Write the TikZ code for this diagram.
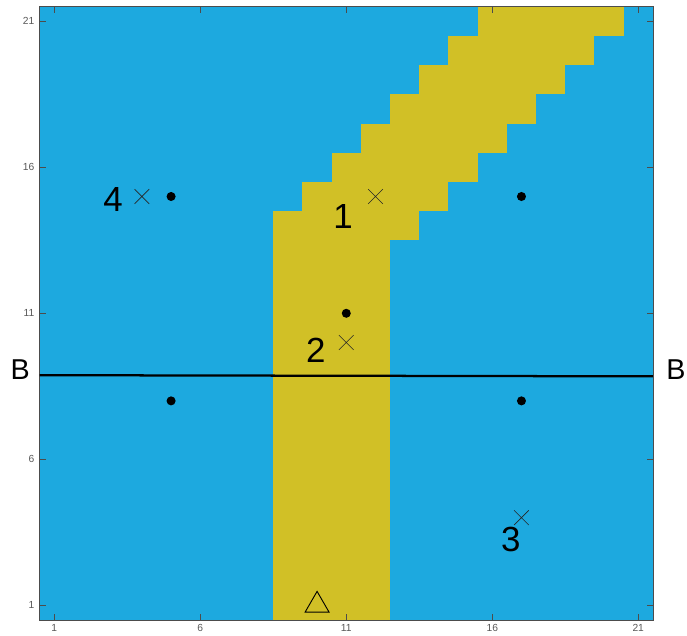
\documentclass[tikz,border=0pt]{standalone}
\usepackage{fontspec}
\setmainfont{Liberation Sans}
\usepackage{tikz}
\usetikzlibrary{positioning,shapes.geometric,shapes.misc}
\definecolor{fieldblue}{RGB}{29,169,223}
\definecolor{ridgeyellow}{RGB}{209,192,38}

\begin{document}
\begin{tikzpicture}[x=1cm,y=1cm,
  every node/.style={font=\fontsize{34}{34}\selectfont},
  ticklab/.style={font=\fontsize{10}{12}\selectfont,text=black!65,inner sep=0.5pt},
  siteno/.style={font=\fontsize{34}{34}\selectfont},
  sidelab/.style={font=\fontsize{28}{28}\selectfont},
  dotmark/.style={circle,fill=black,inner sep=0pt,minimum size=0.31cm},
  xmark/.style={cross out,draw=black!85,line width=0.6pt,inner sep=0pt,minimum size=0.48cm},
  trimark/.style={regular polygon,regular polygon sides=3,draw=black,line width=0.9pt,inner sep=0pt,minimum size=0.95cm}]
  \useasboundingbox (-0.86,-0.02) rectangle (22.67,21.73);
  % field
  \fill[fieldblue] (0.5,0.5) rectangle (21.5,21.5);
  % ridge
  \fill[ridgeyellow] (8.5,0.5) rectangle (12.5,13.5);
  \foreach \r in {14,...,21}
    \fill[ridgeyellow] (\r-5.5,\r-0.5) rectangle (\r-0.5,\r+0.5);
  % frame and ticks
  \draw[black!70,line width=0.6pt] (0.5,0.5) rectangle (21.5,21.5);
  \foreach \t in {1,6,11,16,21} {
    \draw[black!70,line width=0.5pt] (\t,0.5) -- ++(0,0.2);
    \draw[black!70,line width=0.5pt] (\t,21.5) -- ++(0,-0.2);
    \draw[black!70,line width=0.5pt] (0.5,\t) -- ++(0.2,0);
    \draw[black!70,line width=0.5pt] (21.5,\t) -- ++(-0.2,0);
    \node[ticklab] (xl\t) at (\t,0.21) {\t};
    \node[ticklab,anchor=east] (yl\t) at (0.34,\t) {\t};
  }
  % section line B--B
  \coordinate (bw) at (0.5,8.88);
  \coordinate (be) at (21.5,8.84);
  \draw[line width=2.2pt] (bw) -- (be);
  \node[sidelab] (bwl) at (-0.17,9.06) {B};
  \node[sidelab] (bel) at (22.29,9.06) {B};
  % stations
  \node[dotmark] (d1) at (5,15) {};
  \node[dotmark] (d2) at (17,15) {};
  \node[dotmark] (d3) at (11,11) {};
  \node[dotmark] (d4) at (5,8) {};
  \node[dotmark] (d5) at (17,8) {};
  % sources
  \node[xmark] (s1) at (12,15) {};
  \node[xmark] (s2) at (11,10) {};
  \node[xmark] (s3) at (17,4) {};
  \node[xmark] (s4) at (4,15) {};
  \node[siteno] (n1) at (10.89,14.32) {1};
  \node[siteno] (n2) at (9.96,9.73) {2};
  \node[siteno] (n3) at (16.64,3.24) {3};
  \node[siteno] (n4) at (3.01,14.88) {4};
  % receiver
  \node[trimark] (rx) at (10,1) {};
\end{tikzpicture}
\end{document}
